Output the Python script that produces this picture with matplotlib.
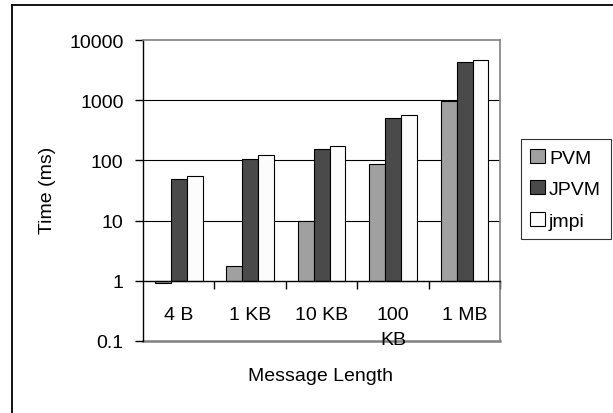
import numpy as np
import matplotlib
matplotlib.use("Agg")
from matplotlib import pyplot as plt
from matplotlib.lines import Line2D
from matplotlib.ticker import FixedLocator, NullFormatter

plt.rcParams['font.family'] = ['Liberation Sans', 'DejaVu Sans']

categories = ["4 B", "1 KB", "10 KB", "100\nKB", "1 MB"]
series_names = ["PVM", "JPVM", "jmpi"]
pvm = [0.9, 1.78, 10, 89, 960]
jpvm = [49, 106, 154, 510, 4300]
jmpi = [55, 122, 175, 575, 4650]
colors = ["#a0a0a0", "#4a4a4a", "#fcfcfc"]
y_ticks = [0.1, 1, 10, 100, 1000, 10000]
y_tick_labels = ["0.1", "1", "10", "100", "1000", "10000"]

FS = 14
W, H = 613, 414
fig = plt.figure(figsize=(W / 100, H / 100), dpi=100)
ax = fig.add_axes([143 / W, (H - 341.7) / H, 357.3 / W, 300.4 / H])

x = np.arange(len(categories))
width = 0.222
for k, (name, vals, c) in enumerate(zip(series_names, [pvm, jpvm, jmpi], colors)):
    vals = np.array(vals, dtype=float)
    ax.bar(x + (k - 1) * width, vals - 1, width, bottom=1, color=c,
           edgecolor="black", linewidth=0.8, label=name, zorder=3)

ax.set_yscale("log")
ax.set_ylim(0.1, 10000)
ax.set_xlim(-0.5, len(categories) - 0.5)

# gridlines at decades
for v in y_ticks[2:-1]:
    ax.axhline(v, color="black", linewidth=0.8, zorder=1)

# spines: y-axis black, x-axis at 1, plot-area border grey
ax.spines["left"].set_color("black")
ax.spines["left"].set_linewidth(1.0)
ax.spines["bottom"].set_position(("data", 1))
ax.spines["bottom"].set_color("black")
ax.spines["bottom"].set_linewidth(1.0)
ax.spines["bottom"].set_zorder(4)
for s in ["top", "right"]:
    ax.spines[s].set_color("#808080")
    ax.spines[s].set_linewidth(1.2)
ax.axhline(0.1, color="#808080", linewidth=1.8, zorder=1, clip_on=False)

ax.yaxis.set_major_locator(FixedLocator(y_ticks))
ax.yaxis.set_minor_locator(FixedLocator([]))
ax.set_yticklabels(y_tick_labels)
ax.tick_params(axis="y", which="major", length=6, width=1.0, direction="out",
               pad=8, labelsize=FS)

ax.set_xticks(x)
ax.set_xticklabels(categories, linespacing=1.65)
ax.xaxis.set_minor_locator(FixedLocator(np.arange(0.5, len(categories), 1.0)))
ax.xaxis.set_minor_formatter(NullFormatter())
ax.tick_params(axis="x", which="major", length=0, pad=18, labelsize=FS)
ax.tick_params(axis="x", which="minor", length=6, width=1.0, direction="out")

fig.text(321 / W, 1 - 377 / H, "Message Length", ha="center", va="center", fontsize=FS)
fig.text(48 / W, 1 - 190 / H, "Time (ms)", ha="center", va="center",
         rotation=90, fontsize=FS)

leg = ax.legend(loc="upper left", bbox_to_anchor=(520.7 / W, 1 - 140 / H),
                bbox_transform=fig.transFigure, fontsize=FS, frameon=True,
                fancybox=False, edgecolor="black", handlelength=0.75,
                handleheight=0.75, handletextpad=0.2, labelspacing=0.7,
                borderpad=0.5, borderaxespad=0)
leg.get_frame().set_linewidth(0.8)

# outer chart border
fig.add_artist(Line2D([12 / W, 12 / W], [0, 1 - 6 / H], transform=fig.transFigure,
                      color="black", linewidth=1.3))
fig.add_artist(Line2D([12 / W, 1], [1 - 6 / H, 1 - 6 / H], transform=fig.transFigure,
                      color="black", linewidth=1.3))

fig.savefig("out.png", dpi=100)
